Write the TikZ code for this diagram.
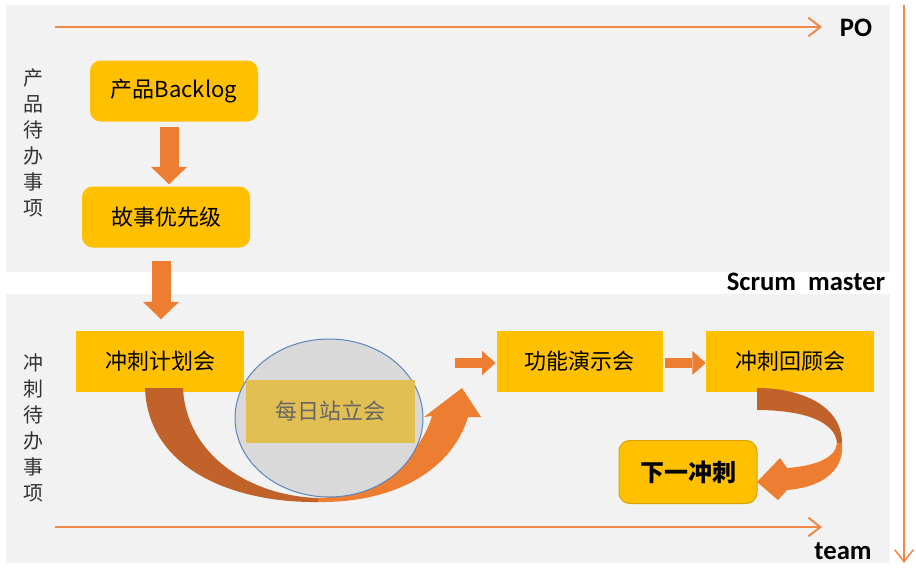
\documentclass[tikz,border=0pt]{standalone}
\usepackage{fontspec}
\setmainfont{Noto Sans CJK SC}
\newfontfamily\latinbold{Carlito}
\usepackage{xcolor}
\definecolor{ScrumGris}{HTML}{F2F2F2}
\definecolor{ScrumAmarillo}{HTML}{FFC000}
\definecolor{ScrumBorde}{HTML}{D9A400}
\definecolor{ScrumNaranja}{HTML}{ED7D31}
\definecolor{ScrumNaranjaOsc}{HTML}{C0622A}
\definecolor{ScrumLinea}{HTML}{F0884A}
\definecolor{ScrumMostaza}{HTML}{E2BF52}
\definecolor{ScrumAzul}{HTML}{5B86BD}
\usetikzlibrary{arrows.meta,positioning,shapes.geometric}

\begin{document}
\begin{tikzpicture}[x=0.75pt, y=-0.75pt,
      caja/.style={rectangle, fill=ScrumAmarillo, inner sep=0pt,
                   minimum width=126pt, minimum height=45.75pt, align=center,
                   font=\fontsize{16.5}{20}\selectfont},
      etiqueta/.style={align=center, text=black!80, inner sep=0pt,
                   font=\fontsize{15}{19.5}\selectfont},
      rol/.style={inner sep=0pt, font=\latinbold\bfseries\fontsize{20}{24}\selectfont},
      linea/.style={draw=ScrumLinea, line width=1.5pt, -{Straight Barb[length=9pt,width=14pt]}},
      bloque/.style={draw=ScrumNaranja, line width=14.25pt,
                   -{Triangle[width=27pt,length=13pt,line width=0pt]}},
      bloquechico/.style={draw=ScrumNaranja, line width=7.5pt,
                   -{Triangle[width=18pt,length=10pt,line width=0pt]}}
    ]
    \useasboundingbox[fill=white] (0,0) rectangle (916,572);
    \fill[ScrumGris] (6,5) rectangle (890,272);
    \fill[ScrumGris] (6,294) rectangle (890,563);

    % roles
    \node[rol] (po) at (856,28) {PO};
    \node[rol] (master) at (806,282) {Scrum\ \ master};
    \node[rol] (team) at (843,551) {team};
    \coordinate (poIni) at (55,27);
    \coordinate (poFin) at (822,27);
    \coordinate (teamIni) at (55,527);
    \coordinate (teamFin) at (822,527);
    \coordinate (masterIni) at (904,5);
    \coordinate (masterFin) at (904,563);
    \draw[linea] (poIni) -- (poFin);
    \draw[linea] (teamIni) -- (teamFin);
    \draw[linea, line width=1.2pt] (masterIni) -- (masterFin);

    \node[etiqueta] (producto) at (33,143) {产\\品\\待\\办\\事\\项};
    \node[etiqueta] (sprint) at (33,428) {冲\\刺\\待\\办\\事\\项};

    % backlog del producto
    \node[caja, rounded corners=8pt] (backlog) at (174,91) {产品Backlog};
    \node[caja, rounded corners=8pt] (prioridad) at (166,217) {故事优先级};
    \draw[bloque, shorten <=4pt, shorten >=1.5pt] ([xshift=-3.75pt]backlog.south) -- ([xshift=2.25pt]prioridad.north);

    % sprint
    \node[caja] (plan) at (160,361) {冲刺计划会};
    \draw[bloque, shorten <=9.75pt, shorten >=8.25pt] ([xshift=-3.75pt]prioridad.south) -- ([xshift=0.75pt]plan.north);

    \fill[ScrumNaranjaOsc] (145,388) -- (183,388) .. controls (186,455) and (250,496) .. (318,498)
      -- (318,502) .. controls (235,503) and (148,470) .. (145,388) -- cycle;
    \fill[ScrumNaranja] (318,498) .. controls (370,496) and (418,462) .. (432,416) -- (424,417) -- (462,388)
      -- (481,417) -- (468,417) .. controls (452,470) and (395,503) .. (318,502) -- cycle;

    \node[ellipse, draw=ScrumAzul, fill=black!15, line width=0.75pt, minimum width=141pt,
          minimum height=118.5pt, inner sep=0pt] (diaria) at (329,418) {};
    \node[caja, fill=ScrumMostaza, text=black!60, minimum width=126.75pt, minimum height=47.25pt] (standup) at (330.5,411.5) {每日站立会};

    \node[caja, minimum width=124.5pt] (demo) at (579.5,361) {功能演示会};
    \node[caja] (retro) at (790,361) {冲刺回顾会};
    \node[caja, rounded corners=8pt, draw=ScrumBorde, line width=0.75pt, minimum width=103.5pt,
          minimum height=47.25pt, font=\bfseries\fontsize{18}{22}\selectfont] (siguiente) at (688,472) {下一冲刺};

    \coordinate (demoIni) at (455,363);
    \draw[bloquechico, shorten >=0.5pt] (demoIni) -- (demo.west |- demoIni);
    \draw[bloquechico, shorten <=2pt] (demo.east |- demoIni) -- (retro.west |- demoIni);

    \fill[ScrumNaranjaOsc] (757,388) .. controls (800,388) and (842,405) .. (842,443)
      -- (837,443) .. controls (835,420) and (800,410) .. (757,410) -- cycle;
    \fill[ScrumNaranja] (842,443) .. controls (845,475) and (815,488) .. (787,490) -- (778,500)
      -- (757,482) -- (780,458) -- (787,468) .. controls (815,466) and (836,458) .. (837,443) -- cycle;
  \end{tikzpicture}
\end{document}
